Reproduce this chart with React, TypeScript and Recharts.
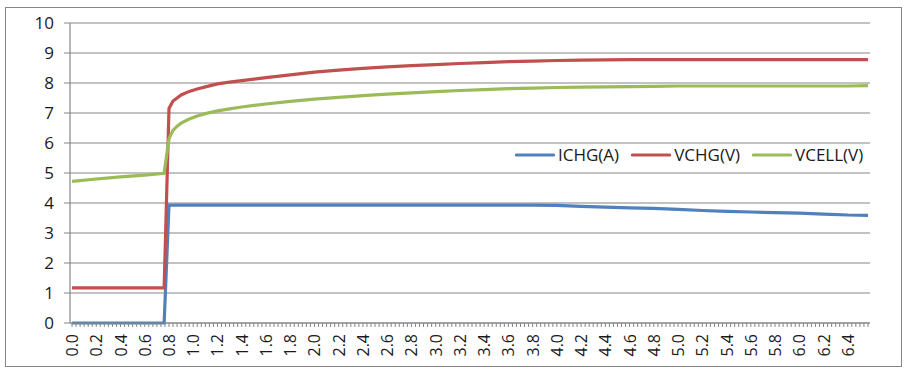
import React from "react";
import { LineChart, Line, XAxis, YAxis, CartesianGrid, Legend } from "recharts";

// x-axis tick labels (every 6th category is labelled)
const tickLabels = [
  "0.0", "0.2", "0.4", "0.6", "0.8", "1.0", "1.2", "1.4", "1.6", "1.8", "2.0",
  "2.2", "2.4", "2.6", "2.8", "3.0", "3.2", "3.4", "3.6", "3.8", "4.0", "4.2",
  "4.4", "4.6", "4.8", "5.0", "5.2", "5.4", "5.6", "5.8", "6.0", "6.2", "6.4",
];

// time (s) of each sample
const timeS = [
  0, 0.2, 0.4, 0.6, 0.76, 0.8, 0.833, 0.867, 0.9, 0.967, 1.033, 1.1, 1.2, 1.3,
  1.4, 1.6, 1.8, 2.0, 2.2, 2.4, 2.6, 2.8, 3.0, 3.2, 3.4, 3.6, 3.8, 4.0, 4.2,
  4.4, 4.6, 4.8, 5.0, 5.2, 5.4, 5.6, 5.8, 6.0, 6.2, 6.4, 6.567,
];

const ichgA = [
  0, 0, 0, 0, 0, 3.93, 3.93, 3.93, 3.93, 3.93, 3.93, 3.93, 3.93, 3.93,
  3.93, 3.93, 3.93, 3.93, 3.93, 3.93, 3.93, 3.93, 3.93, 3.93, 3.93, 3.93, 3.93, 3.92, 3.89,
  3.86, 3.84, 3.82, 3.79, 3.75, 3.72, 3.7, 3.68, 3.66, 3.63, 3.6, 3.59,
];

const vchgV = [
  1.17, 1.17, 1.17, 1.17, 1.17, 7.15, 7.4, 7.5, 7.6, 7.72, 7.8, 7.87, 7.97, 8.03,
  8.08, 8.18, 8.27, 8.36, 8.43, 8.49, 8.54, 8.58, 8.61, 8.65, 8.68, 8.71, 8.73, 8.75, 8.76,
  8.77, 8.78, 8.78, 8.78, 8.78, 8.78, 8.78, 8.78, 8.78, 8.78, 8.78, 8.78,
];

const vcellV = [
  4.72, 4.8, 4.87, 4.93, 4.99, 6.15, 6.42, 6.56, 6.66, 6.8, 6.9, 6.98, 7.07, 7.14,
  7.2, 7.3, 7.39, 7.46, 7.52, 7.58, 7.63, 7.67, 7.71, 7.75, 7.78, 7.81, 7.83, 7.85, 7.86,
  7.87, 7.88, 7.89, 7.9, 7.9, 7.9, 7.9, 7.9, 7.9, 7.9, 7.9, 7.91,
];

const yTicks = [0, 1, 2, 3, 4, 5, 6, 7, 8, 9, 10];

const data = timeS.map((t, i) => ({
  t,
  ichg: ichgA[i],
  vchg: vchgV[i],
  vcell: vcellV[i],
}));

const CAT_STEP = 1 / 30;
const N_CATS = 198;
const catTicks = Array.from({ length: N_CATS }, (_, k) => k * CAT_STEP);

const COLORS = { ichg: "#4F81BD", vchg: "#C0504D", vcell: "#9BBB59" };
const GRID = "#868686";
const TEXT = "#1a1a1a";
const FONT = "'Open Sans', sans-serif";

const XTick = (props: any) => {
  const { x, y, payload } = props;
  const k = Math.round(payload.value / CAT_STEP);
  if (k % 6 !== 0) return null;
  const label = tickLabels[k / 6];
  if (!label) return null;
  return (
    <text
      transform={`translate(${x},${y + 5}) rotate(-90)`}
      textAnchor="end"
      dominantBaseline="central"
      fontSize={16}
      fill={TEXT}
      fontFamily={FONT}
    >
      {label}
    </text>
  );
};

const legendItems = [
  { key: "ichg", name: "ICHG(A)" },
  { key: "vchg", name: "VCHG(V)" },
  { key: "vcell", name: "VCELL(V)" },
];

const LegendContent = () => (
  <div style={{ display: "flex", alignItems: "center", fontFamily: FONT, fontSize: 17, color: TEXT, lineHeight: "22px" }}>
    {legendItems.map((it, i) => (
      <div key={it.key} style={{ display: "flex", alignItems: "center", marginRight: i < 2 ? 12 : 0 }}>
        <svg width={40} height={6} style={{ marginRight: 3 }}>
          <line x1={1.5} y1={3} x2={38.5} y2={3} stroke={(COLORS as any)[it.key]} strokeWidth={3.2} strokeLinecap="round" />
        </svg>
        <span>{it.name}</span>
      </div>
    ))}
  </div>
);

export default function App() {
  return (
    <div style={{ position: "absolute", left: 0, top: 0, width: 909, height: 375, background: "#fff", fontFamily: FONT }}>
      <div
        style={{
          position: "absolute",
          left: 5,
          top: 7,
          width: 895,
          height: 358,
          border: `1px solid ${GRID}`,
        }}
      />
      <LineChart
        width={909}
        height={375}
        data={data}
        margin={{ top: 23, right: 39, bottom: 12, left: 10 }}
        style={{ position: "absolute", left: 0, top: 0 }}
      >
        <CartesianGrid vertical={false} stroke={GRID} strokeWidth={1.2} />
        <XAxis
          dataKey="t"
          type="number"
          domain={[-CAT_STEP / 2, (N_CATS - 0.5) * CAT_STEP]}
          allowDataOverflow
          ticks={catTicks}
          interval={0}
          height={40}
          tick={<XTick />}
          tickSize={4}
          tickMargin={2}
          tickLine={{ stroke: GRID }}
          axisLine={{ stroke: GRID, strokeWidth: 1.2 }}
        />
        <YAxis
          type="number"
          domain={[0, 10]}
          ticks={yTicks}
          interval={0}
          width={60}
          tickSize={6}
          tickMargin={10}
          tickLine={{ stroke: GRID }}
          axisLine={{ stroke: GRID, strokeWidth: 1.2 }}
          tick={{ fontSize: 17, fill: TEXT, fontFamily: FONT }}
        />
        <Legend
          verticalAlign="middle"
          align="center"
          content={<LegendContent />}
          wrapperStyle={{ left: 515, top: 144, width: 370 }}
        />
        <Line type="linear" dataKey="ichg" name="ICHG(A)" stroke={COLORS.ichg} strokeWidth={3.2} dot={false} isAnimationActive={false} />
        <Line type="linear" dataKey="vchg" name="VCHG(V)" stroke={COLORS.vchg} strokeWidth={3.2} dot={false} isAnimationActive={false} />
        <Line type="linear" dataKey="vcell" name="VCELL(V)" stroke={COLORS.vcell} strokeWidth={3.2} dot={false} isAnimationActive={false} />
      </LineChart>
    </div>
  );
}
